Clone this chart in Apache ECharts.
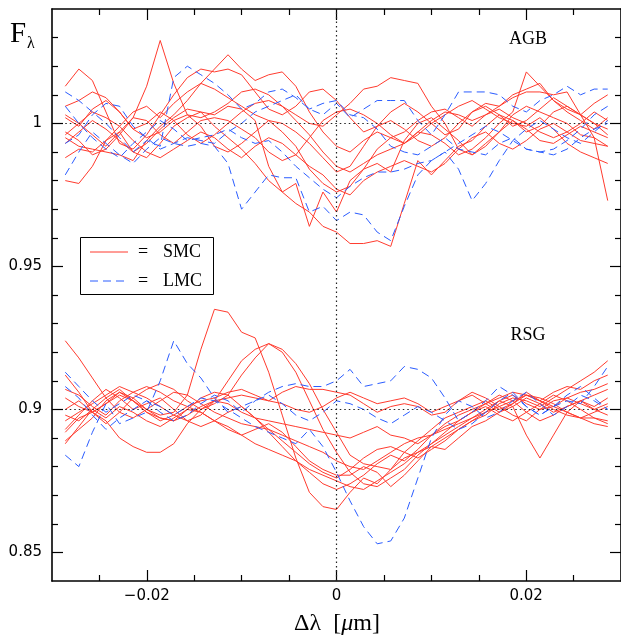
<!DOCTYPE html>
<html><head><meta charset="utf-8">
<script src="https://cdn.jsdelivr.net/npm/echarts@6/dist/echarts.min.js"></script>
<style>html,body{margin:0;padding:0;background:#fff}#c{width:621px;height:639px}</style>
</head><body><div id="c"></div>
<script>
// wavelength offset (micron)
const dLambda = [-0.02860,-0.02717,-0.02574,-0.02431,-0.02288,-0.02145,-0.02002,-0.01859,-0.01716,-0.01573,
 -0.01430,-0.01287,-0.01144,-0.01001,-0.00858,-0.00715,-0.00572,-0.00429,-0.00286,-0.00143,
 0,0.00143,0.00286,0.00429,0.00572,0.00715,0.00858,0.01001,0.01144,0.01287,
 0.01430,0.01573,0.01716,0.01859,0.02002,0.02145,0.02288,0.02431,0.02574,0.02717,0.02860];

// AGB, SMC (red, solid)
const agbSMC = [
 [1.013,1.019,1.015,1.004,0.993,0.991,0.996,1.003,1.010,1.016, 1.019,1.018,1.019,1.017,1.011,1.005,1.003,1.006,1.011,1.012, 1.008,1.002,0.997,0.999,1.004,1.007,1.004,1.000,0.996,0.998, 1.004,1.007,1.006,1.010,1.012,1.014,1.008,1.004,1.001,0.998, 1.002],
 [0.997,0.994,0.989,0.991,0.996,1.002,1.013,1.029,1.014,1.003, 0.999,0.992,0.990,0.993,0.997,1.001,1.000,0.997,0.993,0.988, 0.983,0.985,0.992,0.999,1.001,0.998,0.994,0.992,0.995,1.000, 1.004,1.006,1.003,0.999,1.001,1.005,1.009,1.006,1.003,1.000, 0.996],
 [0.980,0.979,0.985,0.994,0.999,1.004,1.006,1.002,1.007,1.011, 1.014,1.012,1.009,1.006,1.003,1.001,0.997,0.992,0.984,0.979, 0.976,0.978,0.984,0.991,0.995,0.997,1.001,1.004,1.005,1.002, 0.999,1.003,1.005,1.002,1.000,0.997,0.995,0.997,1.000,1.004, 1.001],
 [0.993,0.997,1.001,0.998,0.994,0.990,0.993,0.998,1.002,1.005, 1.004,0.999,0.995,0.991,0.986,0.980,0.976,0.972,0.969,0.964, 0.962,0.958,0.958,0.959,0.957,0.972,0.987,0.982,0.987,0.992, 0.994,0.999,1.003,1.001,0.997,0.999,1.004,1.006,1.003,1.000, 0.998],
 [0.988,0.991,0.990,0.994,0.997,0.990,0.988,0.993,0.999,1.002, 1.004,1.003,1.006,1.005,1.001,0.985,0.976,0.979,0.964,0.976, 0.969,0.980,0.984,0.986,0.983,0.994,1.000,1.002,0.998,0.994, 0.989,0.992,0.997,1.003,1.006,1.004,1.002,1.000,0.996,0.995, 0.992],
 [1.006,1.008,1.011,1.009,1.004,0.998,0.995,0.997,1.001,1.003, 1.002,1.004,1.007,1.011,1.012,1.010,1.006,1.003,1.000,0.999, 1.003,1.007,1.012,1.013,1.016,1.015,1.014,1.006,1.000,0.991, 0.989,0.993,0.997,1.001,0.998,0.994,0.993,0.996,0.999,0.997, 0.995],
 [1.003,1.000,0.996,0.992,0.997,1.002,1.001,0.996,0.993,0.997, 1.001,1.002,1.001,0.998,0.995,0.990,0.987,0.989,0.995,1.001, 1.004,1.005,1.003,1.000,0.996,0.993,0.997,1.001,1.004,1.003, 1.001,1.003,1.006,1.009,1.011,1.011,1.010,1.011,1.003,0.995, 0.973],
 [0.995,0.992,0.991,0.990,0.989,0.987,0.994,0.999,1.003,1.008, 1.014,1.019,1.024,1.019,1.015,1.017,1.018,1.013,1.004,0.997, 0.992,0.990,0.994,0.997,0.995,0.993,0.996,1.000,1.003,1.006, 1.008,1.005,1.002,1.000,0.999,1.002,0.998,0.993,0.990,0.988, 0.986],
 [1.002,0.999,1.005,1.008,1.004,0.998,1.000,1.004,1.001,0.996, 0.993,0.996,1.000,1.004,1.007,1.008,1.006,1.001,0.996,0.990, 0.985,0.983,0.986,0.989,0.991,0.993,0.997,0.996,0.993,0.989, 0.991,0.995,1.000,1.004,1.018,1.013,1.008,1.005,1.003,1.007, 1.010],
 [0.996,1.000,1.004,1.002,0.999,0.994,0.990,0.988,0.991,0.994, 0.997,0.995,0.991,0.988,0.992,0.995,0.993,0.989,0.985,0.982, 0.977,0.975,0.980,0.983,0.985,0.987,0.985,0.983,0.986,0.991, 0.995,0.997,0.993,0.991,0.994,0.998,1.000,0.997,0.994,0.993, 0.992]
];

// AGB, LMC (blue, dashed)
const agbLMC = [
 [1.011,1.008,1.004,1.000,0.995,0.990,0.994,0.992,1.016,1.020, 1.017,1.014,1.010,1.005,1.007,1.011,1.012,1.009,1.005,1.003, 1.007,1.002,1.005,1.008,1.008,1.008,1.001,0.996,1.003,1.011, 1.011,1.011,1.010,1.006,1.004,1.008,1.010,1.013,1.010,1.012, 1.012],
 [0.982,0.990,0.997,0.993,0.989,0.986,0.991,0.995,0.993,0.992, 0.993,0.992,0.986,0.970,0.976,0.982,0.981,0.981,0.969,0.971, 0.966,0.969,0.968,0.962,0.959,0.971,0.982,0.987,0.990,0.993, 0.996,0.999,0.997,0.994,0.991,0.990,0.991,0.994,0.998,1.003, 1.006],
 [1.006,1.000,0.995,0.991,0.988,0.993,0.997,1.001,0.998,0.994, 0.995,0.996,0.998,0.995,0.993,0.994,0.990,0.985,0.981,0.977, 0.974,0.978,0.981,0.983,0.983,0.984,0.986,0.987,0.990,0.984, 0.973,0.979,0.987,0.994,0.998,1.001,0.998,0.995,0.993,0.997, 1.001],
 [0.993,0.996,1.003,1.007,1.006,0.999,0.995,0.991,0.993,0.995, 0.994,0.993,0.997,1.000,1.004,1.006,1.008,1.010,1.005,1.007, 1.008,1.003,1.002,0.998,0.992,0.990,0.989,0.992,0.995,0.991, 0.990,0.989,0.993,0.995,0.991,0.990,0.989,0.991,0.995,0.998, 1.000]
];

// RSG, SMC (red, solid)
const rsgSMC = [
 [0.924,0.918,0.911,0.904,0.899,0.897,0.900,0.903,0.906,0.905, 0.902,0.899,0.897,0.895,0.894,0.893,0.891,0.889,0.887,0.885, 0.882,0.880,0.879,0.882,0.885,0.888,0.890,0.891,0.893,0.895, 0.897,0.899,0.901,0.903,0.905,0.903,0.900,0.898,0.897,0.897, 0.896],
 [0.892,0.897,0.899,0.902,0.905,0.903,0.900,0.898,0.899,0.905, 0.921,0.935,0.934,0.927,0.925,0.913,0.898,0.883,0.871,0.866, 0.865,0.871,0.876,0.874,0.879,0.885,0.889,0.893,0.897,0.899, 0.901,0.903,0.900,0.902,0.906,0.903,0.901,0.899,0.897,0.899, 0.901],
 [0.896,0.899,0.902,0.905,0.908,0.906,0.904,0.901,0.898,0.896, 0.898,0.903,0.910,0.917,0.921,0.923,0.920,0.913,0.903,0.893, 0.885,0.878,0.874,0.873,0.876,0.879,0.884,0.888,0.891,0.894, 0.897,0.900,0.903,0.905,0.902,0.900,0.901,0.904,0.906,0.907, 0.909],
 [0.900,0.903,0.899,0.895,0.899,0.904,0.907,0.909,0.907,0.903, 0.900,0.902,0.905,0.912,0.918,0.923,0.921,0.916,0.909,0.900, 0.892,0.884,0.881,0.880,0.879,0.883,0.885,0.888,0.892,0.896, 0.899,0.902,0.905,0.903,0.899,0.896,0.898,0.901,0.903,0.905, 0.907],
 [0.904,0.901,0.899,0.896,0.890,0.887,0.885,0.885,0.888,0.895, 0.900,0.903,0.904,0.905,0.904,0.903,0.902,0.900,0.899,0.901, 0.904,0.906,0.904,0.902,0.903,0.904,0.902,0.899,0.901,0.903, 0.906,0.904,0.901,0.898,0.896,0.900,0.903,0.904,0.902,0.900, 0.902],
 [0.907,0.905,0.901,0.898,0.903,0.906,0.908,0.906,0.903,0.901, 0.903,0.904,0.906,0.907,0.905,0.903,0.906,0.908,0.907,0.907, 0.906,0.905,0.902,0.899,0.901,0.902,0.901,0.898,0.899,0.903, 0.905,0.902,0.899,0.901,0.904,0.902,0.899,0.901,0.903,0.900, 0.898],
 [0.889,0.893,0.897,0.903,0.906,0.903,0.899,0.896,0.898,0.901, 0.899,0.896,0.894,0.891,0.888,0.886,0.884,0.882,0.879,0.877, 0.875,0.873,0.872,0.875,0.878,0.881,0.885,0.887,0.890,0.893, 0.896,0.899,0.903,0.901,0.891,0.883,0.891,0.899,0.903,0.901, 0.904],
 [0.912,0.906,0.899,0.902,0.906,0.904,0.900,0.897,0.896,0.898, 0.901,0.903,0.902,0.899,0.897,0.896,0.895,0.894,0.893,0.892, 0.891,0.890,0.892,0.894,0.891,0.890,0.888,0.891,0.895,0.898, 0.900,0.902,0.904,0.906,0.905,0.903,0.906,0.908,0.907,0.910, 0.912],
 [0.898,0.896,0.900,0.904,0.907,0.903,0.899,0.897,0.896,0.900, 0.904,0.906,0.905,0.901,0.897,0.893,0.889,0.885,0.881,0.878, 0.876,0.879,0.883,0.886,0.887,0.885,0.883,0.886,0.889,0.893, 0.896,0.898,0.902,0.904,0.903,0.901,0.904,0.907,0.910,0.913, 0.917],
 [0.888,0.894,0.900,0.897,0.901,0.899,0.896,0.894,0.897,0.900, 0.899,0.896,0.893,0.891,0.893,0.895,0.892,0.887,0.882,0.879, 0.877,0.877,0.880,0.878,0.873,0.877,0.882,0.887,0.886,0.890, 0.894,0.896,0.899,0.902,0.905,0.904,0.902,0.899,0.897,0.895, 0.894],
 [0.893,0.898,0.903,0.907,0.904,0.900,0.902,0.904,0.900,0.896, 0.894,0.896,0.899,0.901,0.897,0.892,0.887,0.882,0.878,0.874, 0.872,0.874,0.877,0.881,0.884,0.882,0.886,0.891,0.894,0.896, 0.899,0.901,0.898,0.896,0.899,0.902,0.905,0.903,0.900,0.897, 0.895]
];

// RSG, LMC (blue, dashed)
const rsgLMC = [
 [0.884,0.880,0.892,0.902,0.895,0.897,0.899,0.910,0.924,0.916, 0.911,0.904,0.899,0.901,0.903,0.905,0.902,0.898,0.896,0.899, 0.903,0.902,0.900,0.897,0.895,0.898,0.901,0.899,0.896,0.893, 0.895,0.899,0.903,0.906,0.901,0.898,0.901,0.903,0.902,0.908, 0.915],
 [0.908,0.904,0.898,0.893,0.897,0.900,0.903,0.901,0.898,0.901, 0.904,0.903,0.900,0.897,0.894,0.892,0.890,0.888,0.893,0.887, 0.878,0.868,0.859,0.853,0.854,0.862,0.876,0.890,0.898,0.903, 0.901,0.897,0.899,0.903,0.906,0.902,0.898,0.901,0.905,0.903, 0.900],
 [0.913,0.908,0.903,0.899,0.902,0.905,0.903,0.899,0.896,0.898, 0.902,0.905,0.903,0.899,0.903,0.906,0.908,0.909,0.908,0.908, 0.910,0.914,0.908,0.909,0.910,0.915,0.914,0.911,0.904,0.896, 0.899,0.903,0.908,0.905,0.901,0.898,0.901,0.905,0.908,0.904, 0.900]
];

const xMajorTicks = [-0.02, 0, 0.02];
const xMinorTicks = [-0.025, -0.015, -0.01, -0.005, 0.005, 0.01, 0.015, 0.025];
const yMajorTicks = [0.85, 0.9, 0.95, 1];
const yMinorTicks = [0.86,0.87,0.88,0.89,0.91,0.92,0.93,0.94,0.96,0.97,0.98,0.99,1.01,1.02,1.03];

const RED = '#ff3b2e', BLUE = '#2a5cff';
const chart = echarts.init(document.getElementById('c'), null, {renderer: 'canvas'});

const axisFont = {fontFamily: 'DejaVu Sans', fontSize: 15, color: '#000'};
function fmt(v){ if (Math.abs(v) < 1e-12) return '0'; return String(+v.toFixed(4)).replace('-', '\u2212'); }

function xAx(pos, ticks, len, labels, line){
  return {type:'value', min:-0.03, max:0.03, position:pos,
    axisLine:{show:line, onZero:false, lineStyle:{color:'#000', width:1.6}},
    axisTick:{show:true, inside:true, length:len, customValues:ticks, lineStyle:{color:'#000', width:1.2}},
    axisLabel: labels ? Object.assign({show:true, customValues:ticks, margin:8, formatter:fmt}, axisFont) : {show:false},
    splitLine:{show:false}};
}
function yAx(pos, ticks, len, labels, line){
  return {type:'value', min:0.84, max:1.04, position:pos,
    axisLine:{show:line, onZero:false, lineStyle:{color:'#000', width:1.6}},
    axisTick:{show:true, inside:true, length:len, customValues:ticks, lineStyle:{color:'#000', width:1.2}},
    axisLabel: labels ? Object.assign({show:true, customValues:ticks, margin:10, formatter:fmt}, axisFont) : {show:false},
    splitLine:{show:false}};
}

const series = [];
function add(arr, color, dashed){
  arr.forEach(vals => series.push({
    type:'line', xAxisIndex:0, yAxisIndex:0, symbol:'none', showSymbol:false, silent:true,
    data: dLambda.map((x, i) => [x, vals[i]]),
    lineStyle:{color:color, width:1, type: dashed ? [8,5] : 'solid'},
    z: dashed ? 3 : 2
  }));
}
add(agbSMC, RED, false);
add(rsgSMC, RED, false);
add(agbLMC, BLUE, true);
add(rsgLMC, BLUE, true);

series[0].markLine = {
  symbol:'none', silent:true, animation:false, label:{show:false},
  lineStyle:{color:'#222', type:[1.5,3], width:1.2},
  data:[
    [{coord:[dLambda[0], 1]}, {coord:[dLambda[dLambda.length-1], 1]}],
    [{coord:[dLambda[0], 0.9]}, {coord:[dLambda[dLambda.length-1], 0.9]}],
    {xAxis: 0}
  ]
};

const serif = '"Liberation Serif", "DejaVu Serif", serif';
chart.setOption({
  animation:false,
  backgroundColor:'#fff',
  grid:{left:52, top:9, width:572, height:572, containLabel:false},
  xAxis:[
    xAx('bottom', xMajorTicks, 11, true, true),
    xAx('bottom', xMinorTicks, 6, false, false),
    xAx('top', xMajorTicks, 11, false, true),
    xAx('top', xMinorTicks, 6, false, false)
  ],
  yAxis:[
    yAx('left', yMajorTicks, 11, true, true),
    yAx('left', yMinorTicks, 6, false, false),
    yAx('right', yMajorTicks, 11, false, true),
    yAx('right', yMinorTicks, 6, false, false)
  ],
  series: series,
  graphic:[
    {type:'text', left:10, top:20, style:{text:'F', font:'29px ' + serif, fill:'#000'}},
    {type:'text', left:27, top:36, style:{text:'λ', font:'16px ' + serif, fill:'#000'}},
    {type:'text', x:528, y:39, style:{text:'AGB', font:'18px ' + serif, fill:'#000', align:'center', verticalAlign:'middle'}},
    {type:'text', x:528, y:335, style:{text:'RSG', font:'18px ' + serif, fill:'#000', align:'center', verticalAlign:'middle'}},
    {type:'text', x:337, y:624, style:{
      text:'{n|Δλ  [}{i|μ}{n|m]}', align:'center', verticalAlign:'middle',
      rich:{n:{font:'24px ' + serif, fill:'#000'}, i:{font:'italic 24px ' + serif, fill:'#000'}}}},
    {type:'rect', shape:{x:80.5, y:237.5, width:133, height:57}, style:{fill:'#fff', stroke:'#000', lineWidth:1}, z:10},
    {type:'line', shape:{x1:90, y1:252, x2:128, y2:252}, style:{stroke:RED, lineWidth:1}, z:11},
    {type:'line', shape:{x1:90, y1:281, x2:128, y2:281}, style:{stroke:BLUE, lineWidth:1, lineDash:[8,5]}, z:11},
    {type:'text', x:138, y:252, style:{text:'=', font:'18px ' + serif, fill:'#000', verticalAlign:'middle'}, z:11},
    {type:'text', x:163, y:252, style:{text:'SMC', font:'18px ' + serif, fill:'#000', verticalAlign:'middle'}, z:11},
    {type:'text', x:138, y:281, style:{text:'=', font:'18px ' + serif, fill:'#000', verticalAlign:'middle'}, z:11},
    {type:'text', x:163, y:281, style:{text:'LMC', font:'18px ' + serif, fill:'#000', verticalAlign:'middle'}, z:11}
  ]
});
</script></body></html>
